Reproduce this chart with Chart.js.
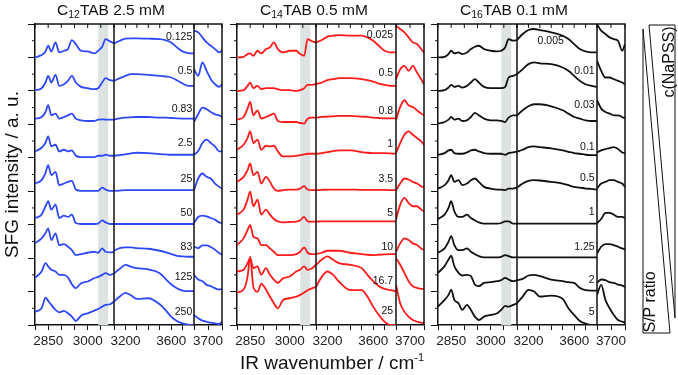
<!DOCTYPE html>
<html>
<head>
<meta charset="utf-8">
<script src="https://cdn.jsdelivr.net/npm/chart.js@4.4.0/dist/chart.umd.min.js"></script>
<style>
  body { margin: 0; background: #fff; }
  #wrap { position: relative; width: 678px; height: 375px; font-family: "Liberation Sans", Arial, sans-serif; }
  canvas { position: absolute; left: 0; top: 0; }
  .ttl { position: absolute; top: 1px; font-size: 15.5px; line-height: 18px; color: #111; white-space: nowrap; }
  .ttl sub { font-size: 10.5px; vertical-align: -3px; line-height: 0; }
  #xlab { position: absolute; left: 232px; width: 200px; top: 352px; text-align: center; font-size: 19px; color: #111; white-space: nowrap; }
  #xlab sup { font-size: 11px; vertical-align: 8px; line-height: 0; }
  #note { position: absolute; left: 636px; top: 0; }
</style>
</head>
<body>
<div id="wrap">
  <canvas id="p1" width="678" height="375"></canvas>
  <canvas id="p2" width="678" height="375"></canvas>
  <canvas id="p3" width="678" height="375"></canvas>
  <div class="ttl" style="left:57px">C<sub>12</sub>TAB 2.5 mM</div>
  <div class="ttl" style="left:260px">C<sub>14</sub>TAB 0.5 mM</div>
  <div class="ttl" style="left:460px">C<sub>16</sub>TAB 0.1 mM</div>
  <div id="xlab">IR wavenumber / cm<sup>-1</sup></div>
  <svg id="note" width="42" height="375">
    <polygon points="13,25 39,25 39,318" fill="none" stroke="#111" stroke-width="1"/>
    <polygon points="7,29 7,333 34,333" fill="none" stroke="#111" stroke-width="1"/>
    <text x="32" y="62" transform="rotate(-90 32 62)" text-anchor="middle" dominant-baseline="central" font-size="16" fill="#111">c(NaPSS)</text>
    <text x="13" y="302" transform="rotate(-90 13 302)" text-anchor="middle" dominant-baseline="central" font-size="16" fill="#111">S/P ratio</text>
  </svg>
</div>
<script>
// wavenumber grids of the three axis segments
const WN_CH = [2800, 2825, 2840, 2850, 2862, 2878, 2892, 2910, 2925, 2940, 2955, 2975, 3000, 3025, 3040, 3055, 3068, 3085, 3100];
const WN_OH = [3100, 3150, 3200, 3250, 3300, 3400, 3500, 3550, 3600, 3650, 3700, 3750, 3800];
const WN_FREE = [3650, 3665, 3680, 3695, 3710, 3725, 3740, 3750];
const BAND = [3040, 3078];

// C12TAB, traces top to bottom (intensity above each trace's own baseline)
const C12_LABELS = ['0.125', '0.5', '0.83', '2.5', '25', '50', '83', '125', '250'];
const C12_CH = [
  [0, .07, .18, .35, .18, .45, .15, .2, .25, .52, .4, .2, .18, .12, .2, .32, .55, .48, .42],
  [.02, .08, .25, .45, .25, .48, .15, .2, .3, .45, .25, .12, .08, .05, .08, .25, .38, .32, .3],
  [.17, .22, .37, .57, .27, .32, .17, .22, .27, .32, .17, .12, .1, .1, .14, .15, .14, .14, .14],
  [.19, .3, .45, .64, .34, .39, .19, .24, .19, .22, .06, .02, .02, .02, .06, .06, .09, .06, .06],
  [.23, .33, .55, .78, .48, .58, .18, .23, .28, .31, .05, .01, .01, .01, .01, .11, .05, .01, .01],
  [.2, .3, .55, .7, .45, .6, .2, .27, .23, .3, .05, .02, .02, .02, .03, .13, .07, .02, .02],
  [.44, .59, .75, .89, .54, .74, .39, .42, .34, .24, .09, .12, .16, .19, .16, .29, .19, .17, .19],
  [.41, .6, .85, .75, .65, .6, .5, .5, .42, .22, .1, .25, .3, .4, .44, .5, .55, .5, .54],
  [.4, .5, .82, .72, .6, .45, .38, .42, .35, .25, .12, .28, .35, .43, .48, .55, .6, .62, .7]
];
const C12_OH = [
  [.42, .5, .56, .57, .57, .56, .55, .52, .45, .3, .18, .13, .12],
  [.3, .38, .45, .5, .5, .48, .45, .43, .4, .32, .22, .15, .15],
  [.14, .18, .2, .21, .22, .22, .2, .2, .19, .18, .17, .17, .17],
  [.06, .08, .1, .13, .15, .14, .11, .1, .09, .09, .09, .09, .09],
  [.01, .02, .03, .03, .03, .03, .03, .03, .03, .03, .03, .03, .03],
  [.02, .02, .02, .02, .02, .02, .02, .02, .02, .02, .02, .02, .02],
  [.22, .3, .32, .32, .3, .28, .22, .18, .12, .07, .05, .04, .04],
  [.54, .68, .8, .74, .7, .66, .55, .38, .22, .1, .03, .01, .01],
  [.7, .85, .96, .88, .78, .8, .62, .45, .25, .12, .05, .01, 0]
];
const C12_FREE = [
  [.8, .75, .6, .45, .35, .25, .15, .22],
  [.65, .45, .85, .6, .35, .2, .12, .2],
  [.07, .3, .5, .45, .37, .3, .27, .22],
  [.09, .2, .44, .54, .44, .34, .19, .19],
  [.03, .38, .53, .43, .38, .23, .13, .08],
  [.05, .23, .27, .25, .2, .15, .07, .05],
  [.34, .3, .38, .38, .33, .25, .15, .1],
  [.5, .36, .31, .2, .16, .1, .06, .08],
  [.3, .2, .13, .1, .07, .05, .03, .1]
];

// C14TAB
const C14_LABELS = ['0.025', '0.5', '0.8', '1', '3.5', '5', '10', '16.7', '25'];
const C14_CH = [
  [0, .02, .1, .12, .05, .2, .12, .25, .3, .45, .25, .15, .2, .2, .1, .05, .55, .48, .45],
  [0, .02, .15, .25, .08, .15, .05, .08, .08, .08, .05, .02, .02, 0, .02, .08, .18, .18, .2],
  [.14, .22, .47, .67, .27, .42, .17, .22, .27, .32, .1, .07, .07, .07, .04, .02, .17, .2, .2],
  [.24, .39, .59, .79, .44, .54, .24, .36, .34, .36, .19, .04, .04, .06, .08, .1, .12, .12, .12],
  [.28, .43, .63, .83, .48, .58, .23, .43, .28, .08, .01, .03, .05, .05, .08, .15, .05, .03, .03],
  [.3, .45, .75, .99, .55, .75, .3, .45, .3, .17, .1, .07, .08, .09, .13, .23, .1, .09, .09],
  [.39, .59, .84, .99, .64, .59, .39, .39, .29, .19, .09, .09, .09, .12, .19, .32, .16, .12, .12],
  [.6, .65, .85, 1.0, .7, .75, .5, .7, .5, .36, .26, .4, .45, .6, .65, .75, .65, .7, .8],
  [.97, 1.06, 1.44, 2.04, 1.14, .99, 1.24, 1.06, .85, .65, .5, .75, .8, .85, .9, .97, 1.04, 1.1, 1.14]
];
const C14_OH = [
  [.45, .52, .62, .65, .67, .65, .65, .6, .5, .35, .2, .15, .15],
  [.2, .25, .32, .35, .38, .38, .35, .32, .28, .22, .18, .15, .15],
  [.2, .22, .23, .24, .25, .25, .23, .22, .2, .19, .18, .18, .18],
  [.12, .14, .17, .2, .22, .22, .17, .15, .14, .14, .14, .13, .12],
  [.03, .04, .05, .05, .05, .05, .04, .04, .04, .04, .04, .03, .03],
  [.09, .1, .1, .1, .1, .1, .1, .1, .1, .1, .1, .1, .1],
  [.12, .16, .22, .22, .22, .16, .12, .1, .09, .1, .11, .12, .12],
  [.8, .95, 1.05, .95, .85, .8, .7, .5, .31, .16, .08, .04, .01],
  [1.14, 1.44, 1.6, 1.5, 1.3, 1.04, 1.04, .85, .55, .3, .1, 0, 0]
];
const C14_FREE = [
  [.95, .85, .75, .6, .45, .4, .25, .15],
  [.35, .65, .75, .6, .75, .55, .35, .2],
  [.12, .52, .72, .57, .52, .42, .32, .27],
  [.14, .44, .69, .79, .69, .59, .49, .39],
  [.03, .23, .38, .35, .28, .23, .15, .11],
  [.15, .6, .8, .65, .55, .55, .45, .4],
  [.19, .44, .59, .54, .44, .39, .29, .24],
  [1.0, .8, .56, .31, .16, .11, .08, .08],
  [1.2, .65, .4, .25, .15, .1, .07, .05]
];

// C16TAB
const C16_LABELS = ['0.005', '0.01', '0.03', '0.1', '0.5', '1', '1.25', '2', '5'];
const C16_CH = [
  [0, .02, .1, .2, .12, .15, .1, .15, .25, .32, .35, .25, .2, .18, .2, .3, .55, .5, .52],
  [0, .02, .1, .18, .12, .15, .1, .15, .25, .35, .25, .12, .08, .08, .08, .12, .4, .45, .5],
  [.02, .07, .14, .22, .14, .17, .1, .12, .22, .34, .27, .17, .12, .12, .1, .07, .2, .27, .27],
  [.09, .14, .22, .24, .14, .12, .12, .16, .22, .24, .19, .14, .12, .12, .12, .09, .14, .16, .18],
  [.08, .18, .33, .48, .28, .33, .18, .23, .33, .38, .28, .13, .08, .05, .05, .03, .08, .08, .11],
  [.17, .3, .5, .7, .4, .23, .23, .3, .2, .13, .07, .03, .03, .03, .05, .1, .1, .03, .03],
  [.16, .29, .49, .66, .39, .24, .24, .29, .19, .12, .06, .02, .02, .02, .04, .09, .06, .02, .02],
  [.56, .76, .96, 1.07, .76, .56, .48, .5, .46, .21, .16, .26, .28, .31, .34, .41, .36, .31, .34],
  [.55, .75, .9, 1.06, .75, .65, .45, .6, .45, .25, .15, .25, .3, .35, .45, .57, .55, .6, .65]
];
const C16_OH = [
  [.52, .7, .82, .85, .82, .75, .65, .55, .4, .25, .18, .15, .15],
  [.5, .65, .8, .85, .82, .8, .7, .6, .45, .3, .2, .15, .12],
  [.27, .42, .54, .6, .6, .54, .42, .32, .22, .17, .12, .1, .1],
  [.18, .24, .32, .34, .32, .28, .22, .18, .14, .12, .09, .08, .08],
  [.11, .23, .31, .33, .32, .28, .23, .18, .13, .11, .08, .07, .05],
  [.03, .03, .03, .03, .03, .03, .03, .03, .03, .03, .03, .03, .03],
  [.02, .02, .02, .02, .02, .02, .02, .02, .02, .02, .02, .02, .02],
  [.34, .38, .48, .5, .46, .36, .31, .28, .26, .11, .04, .03, .03],
  [.65, .85, 1.05, 1.0, .85, .88, .78, .5, .3, .12, .04, 0, 0]
];
const C16_FREE = [
  [1.0, .8, .7, .6, .55, .5, .2, .4],
  [.9, .6, .4, .4, .35, .3, .25, .2],
  [.72, .47, .37, .32, .27, .27, .22, .17],
  [.16, .22, .26, .29, .32, .26, .16, .14],
  [.08, .23, .28, .33, .33, .28, .23, .13],
  [.05, .17, .35, .35, .3, .23, .23, .2],
  [.14, .34, .42, .42, .39, .34, .29, .26],
  [.26, .36, .34, .28, .26, .21, .18, .14],
  [.9, 1.2, .75, .5, .3, .15, .1, .07]
];

// where the concentration labels sit: [wavenumber of right edge, height above baseline]
const C12_LABEL_POS = [[3785, .6], [3785, .6], [3785, .45], [3785, .45], [3785, .36], [3785, .36], [3785, .33], [3785, .42], [3785, .4]];
const C14_LABEL_POS = [[3775, .66], [3775, .54], [3775, .4], [3775, .42], [3775, .36], [3775, .36], [3775, .33], [3775, .3], [3775, .42]];
const C16_LABEL_POS = [[3510, .48], [3780, .6], [3780, .57], [3780, .33], [3780, .39], [3780, .39], [3780, .33], [3780, .33], [3780, .39]];

const FONT = '"Liberation Sans", Arial, sans-serif';

const panelDeco = {
  id: 'panelDeco',
  beforeDatasetsDraw(chart) {
    const { ctx, chartArea: a, scales } = chart;
    const b0 = scales.xa.getPixelForValue(BAND[0]);
    const b1 = scales.xa.getPixelForValue(BAND[1]);
    ctx.save();
    ctx.fillStyle = '#dde3e3';
    ctx.fillRect(b0, a.top, b1 - b0, a.bottom - a.top);
    ctx.restore();
  },
  afterDatasetsDraw(chart) {
    const { ctx, chartArea: a, scales } = chart;
    const o = chart.options.plugins.panelDeco;
    ctx.save();
    ctx.strokeStyle = '#111';
    ctx.lineWidth = 1.5;
    ctx.beginPath();
    ctx.moveTo(a.left, a.top); ctx.lineTo(a.right, a.top); ctx.lineTo(a.right, a.bottom);
    [scales.xa.right, scales.xb.right].forEach(x => { ctx.moveTo(x, a.top); ctx.lineTo(x, a.bottom); });
    ctx.stroke();
    ctx.lineWidth = 1;
    ctx.beginPath();
    ['xa', 'xb', 'xc'].forEach(id => {
      scales[id].ticks.forEach(t => {
        const x = scales[id].getPixelForValue(t.value);
        ctx.moveTo(x, a.top); ctx.lineTo(x, a.top + 4);
      });
    });
    for (let v = 0.5; v < 9; v += 1) {
      const y = scales.y.getPixelForValue(v);
      ctx.moveTo(a.left - 3, y); ctx.lineTo(a.left, y);
    }
    ctx.stroke();
    ctx.fillStyle = '#111';
    ctx.font = '10.5px ' + FONT;
    ctx.textAlign = 'right';
    ctx.textBaseline = 'middle';
    o.labels.forEach((txt, i) => {
      const [wn, h] = o.pos[i];
      ctx.fillText(txt, scales.xb.getPixelForValue(wn), scales.y.getPixelForValue(8 - i + h));
    });
    ctx.restore();
  }
};

function xAxis(min, max, step, weight, shown) {
  return {
    type: 'linear', position: 'bottom', stack: 'wn', stackWeight: weight,
    min: min, max: max,
    ticks: {
      stepSize: step, autoSkip: false, maxRotation: 0, padding: 3,
      color: '#222', font: { family: FONT, size: 13.5 },
      callback: v => shown.includes(v) ? String(v) : ''
    },
    grid: { drawOnChartArea: false, tickLength: 5, color: '#111', tickWidth: 1 },
    border: { color: '#111', width: 1.5 },
    afterFit: s => { s.height = 50; }
  };
}

function makePanel(id, color, ch, oh, free, labels, pos, pad, yWidth, yTitle) {
  const datasets = [];
  const segs = [['xa', WN_CH, ch], ['xb', WN_OH, oh], ['xc', WN_FREE, free]];
  for (let i = 0; i < 9; i++) {
    segs.forEach(([axis, wn, rows]) => {
      datasets.push({
        data: wn.map((x, j) => ({ x: x, y: rows[i][j] + 8 - i })),
        xAxisID: axis, yAxisID: 'y',
        borderColor: color, borderWidth: 1.8,
        pointRadius: 0, fill: false,
        cubicInterpolationMode: 'monotone'
      });
    });
  }
  return new Chart(document.getElementById(id), {
    type: 'line',
    data: { datasets: datasets },
    options: {
      responsive: false, animation: false, events: [],
      layout: { padding: pad },
      plugins: {
        legend: { display: false }, tooltip: { enabled: false },
        panelDeco: { labels: labels, pos: pos }
      },
      scales: {
        xa: xAxis(2800, 3100, 50, 79, [2850, 3000]),
        xb: xAxis(3100, 3800, 100, 80, [3200, 3600]),
        xc: xAxis(3650, 3750, 50, 28, [3700]),
        y: {
          min: 0, max: 9,
          ticks: { stepSize: 1, display: false },
          grid: { drawOnChartArea: false, tickLength: 7, color: '#111' },
          border: { color: '#111', width: 1.5 },
          title: {
            display: !!yTitle, text: yTitle || '', color: '#111',
            font: { family: FONT, size: 19 }, padding: { top: 1, bottom: 0 }
          },
          afterFit: s => { s.width = yWidth; }
        }
      }
    },
    plugins: [panelDeco]
  });
}

makePanel('p1', '#2d48f5', C12_CH, C12_OH, C12_FREE, C12_LABELS, C12_LABEL_POS,
  { left: 0, right: 456, top: 24, bottom: 0 }, 35, 'SFG intensity / a. u.');
makePanel('p2', '#ff1a1a', C14_CH, C14_OH, C14_FREE, C14_LABELS, C14_LABEL_POS,
  { left: 222, right: 254, top: 24, bottom: 0 }, 15, '');
makePanel('p3', '#111111', C16_CH, C16_OH, C16_FREE, C16_LABELS, C16_LABEL_POS,
  { left: 423, right: 53, top: 24, bottom: 0 }, 15, '');
</script>
</body>
</html>
